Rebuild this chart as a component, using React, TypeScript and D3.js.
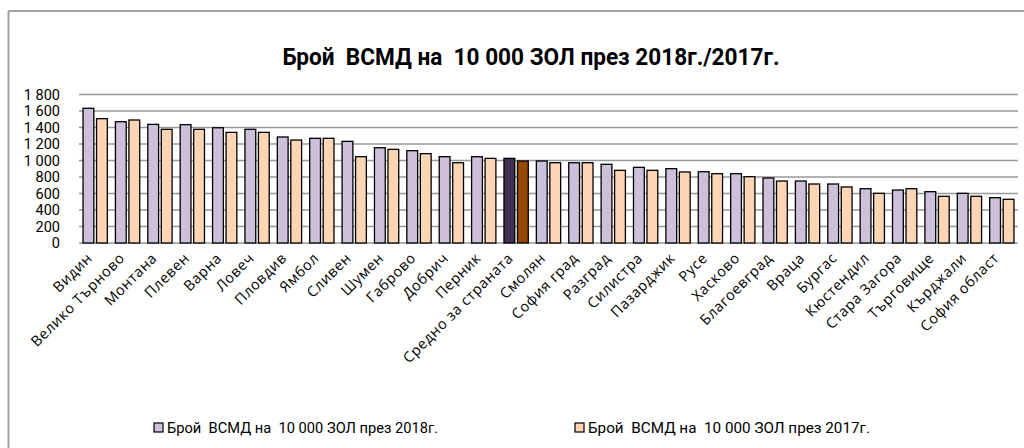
import React from "react";
import * as d3 from "d3";

const categories = [
  "Видин", "Велико Търново", "Монтана", "Плевен", "Варна", "Ловеч", "Пловдив", "Ямбол",
  "Сливен", "Шумен", "Габрово", "Добрич", "Перник", "Средно за страната", "Смолян",
  "София град", "Разград", "Силистра", "Пазарджик", "Русе", "Хасково", "Благоевград",
  "Враца", "Бургас", "Кюстендил", "Стара Загора", "Търговище", "Кърджали", "София област",
];
const values2018 = [
  1633, 1470, 1438, 1434, 1397, 1378, 1285, 1269, 1232, 1155, 1119, 1046, 1046, 1026, 994,
  973, 954, 917, 901, 864, 840, 788, 751, 715, 658, 642, 622, 602, 549,
];
const values2017 = [
  1507, 1491, 1378, 1378, 1341, 1341, 1248, 1269, 1046, 1135, 1083, 973, 1026, 994, 973,
  973, 881, 881, 861, 840, 804, 751, 715, 679, 602, 658, 566, 566, 530,
];
const yTicks = [0, 200, 400, 600, 800, 1000, 1200, 1400, 1600, 1800];
const seriesNames = ["Брой  ВСМД на  10 000 ЗОЛ през 2018г.", "Брой  ВСМД на  10 000 ЗОЛ през 2017г."];
const titleText = "Брой  ВСМД на  10 000 ЗОЛ през 2018г./2017г.";
const highlight = "Средно за страната";

const W = 1024;
const H = 448;
const narrow = "'Liberation Sans Narrow', 'Arial Narrow', 'Roboto', sans-serif";

export default function App() {
  const x0 = d3.scaleBand<string>().domain(categories).range([79, 1018]).paddingInner(0.25).paddingOuter(0.125);
  const x1 = d3.scaleBand<string>().domain(["2018", "2017"]).range([0, x0.bandwidth()]).paddingInner(0.2);
  const y = d3.scaleLinear().domain([0, 1800]).range([243, 94.5]);
  const fmt = (v: number) => d3.format(",")(v).replace(/,/g, " ");

  return (
    <svg width={W} height={H} style={{ position: "absolute", left: 0, top: 0, background: "#fff" }}>
      <rect x={0} y={0} width={W} height={H} fill="#fff" />
      <line x1={8.5} y1={11} x2={W} y2={11} stroke="#a0a0a0" strokeWidth={2} />
      <line x1={8.5} y1={11} x2={8.5} y2={H} stroke="#a0a0a0" strokeWidth={2} />

      <text x={531} y={65} textAnchor="middle" fontFamily={narrow} fontWeight="bold" fontSize={23}
        textLength={497} lengthAdjust="spacingAndGlyphs" fill="#000" style={{ whiteSpace: "pre" }}>{titleText}</text>

      {yTicks.map((t) => (
        <line key={t} x1={79} x2={1018} y1={y(t)} y2={y(t)} stroke="#999" strokeWidth={1.5} />
      ))}
      {yTicks.map((t) => (
        <text key={"l" + t} x={60} y={y(t)} dy="0.35em" textAnchor="end" fontFamily={narrow} fontSize={14.5} fill="#000">
          {fmt(t)}
        </text>
      ))}

      {categories.map((c, i) => {
        const isAvg = c === highlight;
        const bx = x0(c) as number;
        return (
          <g key={c}>
            <rect x={bx + (x1("2018") as number)} y={y(values2018[i])} width={x1.bandwidth()}
              height={y(0) - y(values2018[i])} fill={isAvg ? "#403152" : "#ccc0da"} stroke="#000" strokeWidth={1.3} />
            <rect x={bx + (x1("2017") as number)} y={y(values2017[i])} width={x1.bandwidth()}
              height={y(0) - y(values2017[i])} fill={isAvg ? "#974806" : "#fcd5b5"} stroke="#000" strokeWidth={1.3} />
          </g>
        );
      })}

      {categories.map((c) => {
        const cx = (x0(c) as number) + x0.bandwidth() / 2 - 2;
        const ly = 259;
        return (
          <text key={"x" + c} x={cx} y={ly} textAnchor="end" fontFamily="'Open Sans', sans-serif" fontSize={14.5}
            letterSpacing={0.6} transform={`rotate(-45 ${cx} ${ly})`} fill="#000">{c}</text>
        );
      })}

      <rect x={154} y={423} width={9} height={9} fill="#ccc0da" stroke="#000" strokeWidth={1.2} />
      <text x={167} y={433} fontFamily={narrow} fontSize={15} textLength={271} lengthAdjust="spacingAndGlyphs" fill="#000"
        style={{ whiteSpace: "pre" }}>
        {seriesNames[0]}
      </text>
      <rect x={575} y={423} width={9} height={9} fill="#fcd5b5" stroke="#000" strokeWidth={1.2} />
      <text x={588} y={433} fontFamily={narrow} fontSize={15} textLength={282} lengthAdjust="spacingAndGlyphs" fill="#000"
        style={{ whiteSpace: "pre" }}>
        {seriesNames[1]}
      </text>
    </svg>
  );
}
